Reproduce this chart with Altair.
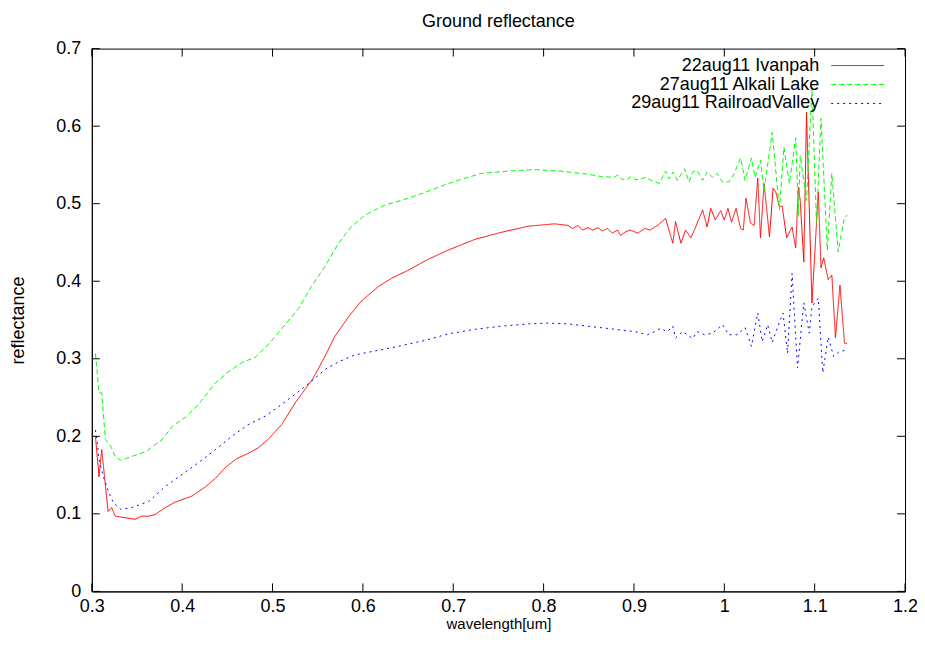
import altair as alt
import pandas as pd

# ---------------- data ----------------
series_names = ["22aug11 Ivanpah", "27aug11 Alkali Lake", "29aug11 RailroadValley"]
series_colors = ["#ff0000", "#00ff00", "#0000ff"]
series_dash = [[1, 0], [5, 3], [2, 4]]

red_x = [0.304, 0.308, 0.311, 0.318, 0.322, 0.326, 0.337, 0.348, 0.355, 0.363, 0.370, 0.381,
         0.392, 0.411, 0.426, 0.437, 0.448, 0.460, 0.473, 0.484, 0.495, 0.510, 0.525, 0.545,
         0.558, 0.569, 0.584, 0.598, 0.617, 0.632, 0.650, 0.670, 0.694, 0.724, 0.753, 0.783,
         0.812,
         0.827, 0.832, 0.838, 0.843, 0.849, 0.854, 0.860, 0.865, 0.871, 0.876, 0.882, 0.885,
         0.891, 0.896, 0.904, 0.912, 0.918, 0.926, 0.935, 0.943, 0.946, 0.952, 0.957, 0.963,
         0.968, 0.970, 0.976, 0.981, 0.985, 0.990, 0.996, 1.000, 1.004, 1.008, 1.013, 1.018,
         1.021, 1.024, 1.029, 1.033, 1.037, 1.040, 1.044, 1.050, 1.054, 1.057, 1.061, 1.064,
         1.069, 1.075, 1.079, 1.082, 1.084, 1.088, 1.091, 1.097, 1.104, 1.107, 1.110, 1.115,
         1.119, 1.123, 1.128, 1.133, 1.136]
red_y = [0.200, 0.148, 0.183, 0.103, 0.108, 0.097, 0.095, 0.093, 0.097, 0.097, 0.099, 0.108,
         0.115, 0.123, 0.135, 0.146, 0.160, 0.171, 0.178, 0.185, 0.196, 0.215, 0.243, 0.275,
         0.303, 0.329, 0.354, 0.374, 0.393, 0.404, 0.414, 0.427, 0.440, 0.454, 0.463, 0.471,
         0.474,
         0.472, 0.468, 0.472, 0.466, 0.469, 0.466, 0.469, 0.465, 0.468, 0.462, 0.466, 0.459,
         0.464, 0.466, 0.462, 0.468, 0.466, 0.472, 0.481, 0.449, 0.477, 0.449, 0.466, 0.456,
         0.469, 0.475, 0.492, 0.470, 0.494, 0.479, 0.491, 0.479, 0.494, 0.476, 0.494, 0.468,
         0.466, 0.507, 0.475, 0.472, 0.533, 0.456, 0.526, 0.457, 0.520, 0.515, 0.496, 0.497,
         0.456, 0.470, 0.443, 0.521, 0.504, 0.425, 0.618, 0.372, 0.515, 0.417, 0.430, 0.402,
         0.408, 0.327, 0.395, 0.320, 0.320]

green_x = [0.304, 0.308, 0.311, 0.315, 0.321, 0.326, 0.332, 0.344, 0.359, 0.363, 0.378, 0.389,
           0.403, 0.418, 0.437, 0.451, 0.466, 0.481, 0.495, 0.506, 0.529, 0.543, 0.558, 0.573,
           0.587, 0.602, 0.624, 0.650, 0.670, 0.690, 0.705, 0.731, 0.760, 0.790, 0.819, 0.849,
           0.864, 0.878, 0.882, 0.886, 0.891, 0.897, 0.902, 0.908, 0.913, 0.919, 0.924, 0.928,
           0.935, 0.939, 0.943, 0.948, 0.956, 0.961, 0.965, 0.970,
           0.976, 0.981, 0.987, 0.992, 0.998, 1.005, 1.011, 1.018, 1.023, 1.030, 1.034, 1.040,
           1.044, 1.053, 1.061, 1.066, 1.072, 1.079, 1.082, 1.084, 1.091, 1.097, 1.102, 1.107,
           1.114, 1.119, 1.126, 1.133, 1.136]
green_y = [0.307, 0.256, 0.256, 0.196, 0.187, 0.174, 0.169, 0.174, 0.180, 0.183, 0.196, 0.213,
           0.224, 0.241, 0.269, 0.283, 0.295, 0.302, 0.318, 0.333, 0.365, 0.393, 0.419, 0.449,
           0.470, 0.485, 0.498, 0.507, 0.515, 0.524, 0.530, 0.539, 0.542, 0.544, 0.542, 0.538,
           0.535, 0.534, 0.537, 0.532, 0.530, 0.535, 0.531, 0.532, 0.534, 0.530, 0.528, 0.526,
           0.542, 0.532, 0.541, 0.530, 0.545, 0.528, 0.541, 0.543,
           0.530, 0.541, 0.534, 0.539, 0.528, 0.528, 0.539, 0.559, 0.530, 0.559, 0.534, 0.556,
           0.517, 0.592, 0.492, 0.573, 0.526, 0.585, 0.485, 0.562, 0.504, 0.650, 0.476, 0.610,
           0.440, 0.539, 0.438, 0.483, 0.485]

blue_x = [0.304, 0.306, 0.308, 0.313, 0.319, 0.324, 0.332, 0.344, 0.363, 0.381, 0.400, 0.418,
          0.437, 0.455, 0.473, 0.492, 0.510, 0.527, 0.545, 0.558, 0.573, 0.591, 0.613, 0.639,
          0.670, 0.694, 0.724, 0.753, 0.783, 0.805, 0.827, 0.849, 0.879, 0.901, 0.915, 0.923,
          0.929, 0.937, 0.943, 0.946, 0.954, 0.965, 0.970, 0.978, 0.987, 0.998, 1.005, 1.014,
          1.023, 1.030, 1.037, 1.042, 1.048, 1.053, 1.059, 1.065, 1.070, 1.075, 1.081, 1.088,
          1.094, 1.097, 1.104, 1.109, 1.115, 1.121, 1.127, 1.134]
blue_y = [0.208, 0.192, 0.170, 0.147, 0.127, 0.114, 0.106, 0.108, 0.116, 0.135, 0.151, 0.166,
          0.183, 0.200, 0.215, 0.226, 0.241, 0.256, 0.273, 0.286, 0.296, 0.305, 0.310, 0.316,
          0.324, 0.332, 0.338, 0.342, 0.345, 0.346, 0.345, 0.342, 0.338, 0.335, 0.331, 0.335,
          0.339, 0.335, 0.342, 0.327, 0.335, 0.326, 0.335, 0.331, 0.333, 0.344, 0.331, 0.331,
          0.340, 0.316, 0.359, 0.322, 0.344, 0.321, 0.341, 0.359, 0.307, 0.410, 0.288, 0.372,
          0.333, 0.367, 0.378, 0.282, 0.328, 0.303, 0.309, 0.311]

x_ticks = [0.3, 0.4, 0.5, 0.6, 0.7, 0.8, 0.9, 1.0, 1.1, 1.2]
y_ticks = [0.0, 0.1, 0.2, 0.3, 0.4, 0.5, 0.6, 0.7]

# ---------------- build tables ----------------
rows = []
for name, xs_, ys_ in zip(series_names, [red_x, green_x, blue_x], [red_y, green_y, blue_y]):
    for i, (a, b) in enumerate(zip(xs_, ys_)):
        rows.append({"series": name, "wavelength": a, "reflectance": b, "idx": i})
df = pd.DataFrame(rows)
xt = pd.DataFrame({"wavelength": x_ticks})
yt = pd.DataFrame({"reflectance": y_ticks})

W, H = 815, 544
TICK = 8
FONT = "Liberation Sans"
FS = 18

xscale = alt.Scale(domain=[0.3, 1.2], nice=False, zero=False)
yscale = alt.Scale(domain=[0, 0.7], nice=False, zero=False)

xaxis = alt.Axis(values=x_ticks, format="~g", title="wavelength[um]", ticks=False,
                 tickSize=0, grid=False, labelPadding=6, labelFlush=False,
                 titleY=37.5, titleBaseline="alphabetic", titleFontSize=15)
yaxis = alt.Axis(values=y_ticks, format="~g", title="reflectance", ticks=False,
                 tickSize=0, grid=False, labelPadding=11, titlePadding=28, labelFlush=False)

lines = alt.Chart(df).mark_line(strokeWidth=1, clip=True).encode(
    x=alt.X("wavelength:Q", scale=xscale, axis=xaxis),
    y=alt.Y("reflectance:Q", scale=yscale, axis=yaxis),
    color=alt.Color("series:N", scale=alt.Scale(domain=series_names, range=series_colors),
                    legend=None),
    strokeDash=alt.StrokeDash("series:N", scale=alt.Scale(domain=series_names, range=series_dash),
                              legend=None),
    order="idx:Q",
)

tick_b = alt.Chart(xt).mark_rule(color="black", strokeWidth=1).encode(
    x=alt.X("wavelength:Q", scale=xscale, axis=xaxis), y=alt.value(H), y2=alt.value(H - TICK))
tick_t = alt.Chart(xt).mark_rule(color="black", strokeWidth=1).encode(
    x=alt.X("wavelength:Q", scale=xscale, axis=xaxis), y=alt.value(0), y2=alt.value(TICK))
tick_l = alt.Chart(yt).mark_rule(color="black", strokeWidth=1).encode(
    y=alt.Y("reflectance:Q", scale=yscale, axis=yaxis), x=alt.value(0), x2=alt.value(TICK))
tick_r = alt.Chart(yt).mark_rule(color="black", strokeWidth=1).encode(
    y=alt.Y("reflectance:Q", scale=yscale, axis=yaxis), x=alt.value(W - TICK), x2=alt.value(W))

legend_layers = []
for i, (name, col, dash) in enumerate(zip(series_names, series_colors, series_dash)):
    ypos = 17 + 19 * i
    ldf = pd.DataFrame({"name": [name]})
    legend_layers.append(
        alt.Chart(ldf).mark_text(align="right", baseline="middle", font=FONT, fontSize=FS,
                                 color="black").encode(
            text="name:N", x=alt.value(729), y=alt.value(ypos)))
    legend_layers.append(
        alt.Chart(ldf).mark_rule(color=col, strokeDash=dash, strokeWidth=1).encode(
            x=alt.value(741), x2=alt.value(794), y=alt.value(ypos)))

chart = alt.layer(lines, tick_b, tick_t, tick_l, tick_r, *legend_layers).properties(
    width=W, height=H,
    title=alt.TitleParams("Ground reflectance", font=FONT, fontSize=FS, fontWeight="normal",
                          anchor="middle", offset=9, color="black"),
    autosize=alt.AutoSizeParams(type="none"),
    padding={"left": 84, "top": 40, "right": 12, "bottom": 40},
).configure_view(
    stroke="black", strokeWidth=1
).configure_axis(
    domainColor="black", domainWidth=1, labelColor="black", titleColor="black",
    labelFont=FONT, titleFont=FONT, labelFontSize=FS, titleFontSize=FS,
    titleFontWeight="normal"
)

chart.save("out.html", embed_options={"renderer": "svg", "actions": False})
